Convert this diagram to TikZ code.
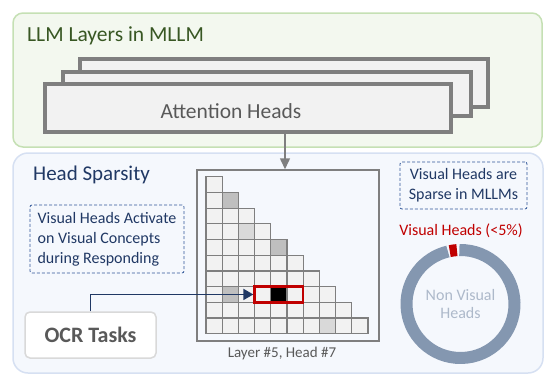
\documentclass[tikz,border=0pt]{standalone}
\usepackage{fontspec}
\setmainfont{Carlito}
\usetikzlibrary{arrows.meta}
\definecolor{gfill}{HTML}{F3F8EF}
\definecolor{gborder}{HTML}{C5E0B4}
\definecolor{bfill}{HTML}{F5F8FD}
\definecolor{bborder}{HTML}{D6E0F2}
\definecolor{gtitle}{HTML}{385723}
\definecolor{dblue}{HTML}{203864}
\definecolor{dashc}{HTML}{2F5597}
\definecolor{gline}{HTML}{7F7F7F}
\definecolor{boxfill}{HTML}{F2F2F2}
\definecolor{gtext}{HTML}{595959}
\definecolor{ringc}{HTML}{8497B0}
\definecolor{vred}{HTML}{C00000}
\definecolor{nvtext}{HTML}{ADB9CA}
\definecolor{cellmid}{HTML}{BFBFBF}
\definecolor{celllight}{HTML}{D9D9D9}
\definecolor{ocrborder}{HTML}{D9D9D9}
\begin{document}
\begin{tikzpicture}[x=1pt,y=-1pt,
  layerbox/.style={draw=gline, line width=4pt, fill=boxfill, inner sep=0pt},
  dashbox/.style={draw=dashc, line width=0.8pt, dash pattern=on 3pt off 2pt, rounded corners=2pt, text=dblue, font=\fontsize{16}{20}\selectfont},
  cellbox/.style={draw=gline, line width=1.2pt},
  grayarrow/.style={draw=gline, line width=1.5pt, -{Triangle[width=10pt,length=11pt]}},
  bluearrow/.style={draw=dblue, line width=1.8pt, -{Triangle[width=11pt,length=10pt]}},
  ringarc/.style={line width=12pt}
]
\useasboundingbox (0,0) rectangle (551,380);
% panels
\node[draw=gborder, fill=gfill, line width=1.5pt, rounded corners=10pt, minimum width=529pt, minimum height=134pt, inner sep=0pt] (gpanel) at (277.5,80) {};
\node[draw=bborder, fill=bfill, line width=1.5pt, rounded corners=15pt, minimum width=530pt, minimum height=220pt, inner sep=0pt] (bpanel) at (278,263) {};
% titles
\node[anchor=base west, inner sep=0pt, text=gtitle, font=\fontsize{21.5}{24}\selectfont] (ttl) at (27,41) {LLM Layers in MLLM};
\node[anchor=base west, inner sep=0pt, text=dblue, font=\fontsize{21}{24}\selectfont] (hs) at (33,180) {Head Sparsity};
% stacked layers
\node[layerbox, minimum width=408pt, minimum height=48pt] (back) at (284,83) {};
\node[layerbox, minimum width=408pt, minimum height=44pt] (mid) at (267,94) {};
\node[layerbox, minimum width=406pt, minimum height=48pt] (front) at (248,108) {};
\node[anchor=base, inner sep=0pt, text=gtext, font=\fontsize{21.5}{24}\selectfont] (ah) at (231,118) {Attention Heads};
% grid frame
\node[draw=gline, line width=1.5pt, minimum width=182pt, minimum height=171pt, inner sep=0pt] (frame) at (288,255.5) {};
\coordinate (ax) at (285,0);
\draw[grayarrow] (front.south -| ax) -- (frame.north -| ax);
% grid cells
\foreach \r in {0,...,9}{
  \foreach \c in {0,...,\r}{
    \draw[cellbox, fill=boxfill] (206+\c*16.2, 176.7+\r*15.7) rectangle ++(16.2,15.7);
  }
}
\foreach \r/\c/\col in {1/1/cellmid, 3/2/celllight, 4/4/cellmid, 7/1/cellmid, 7/4/black, 9/7/celllight}{
  \draw[cellbox, fill=\col] (206+\c*16.2, 176.7+\r*15.7) rectangle ++(16.2,15.7);
}
\node[draw=vred, line width=2.5pt, minimum width=48.6pt, minimum height=15.7pt, inner sep=0pt] (hl) at (278.9,294.45) {};
\node[anchor=base, inner sep=0pt, text=gtext, font=\fontsize{15}{18}\selectfont] (lh) at (282,357) {Layer \#5, Head \#7};
% left dashed note
\node[dashbox, minimum width=154pt, minimum height=68pt, inner sep=0pt, align=left] (note1) at (107,239) {Visual Heads Activate\\on Visual Concepts\\during Responding};
% OCR box
\node[draw=ocrborder, fill=white, line width=1.5pt, rounded corners=5pt, minimum width=131pt, minimum height=46pt, inner sep=0pt, text=gtext, font=\bfseries\fontsize{22}{24}\selectfont] (ocr) at (90.5,335) {OCR Tasks};
\draw[bluearrow] (ocr.north) |- (hl.west);
% right dashed note
\node[dashbox, minimum width=127pt, minimum height=47pt, inner sep=0pt, align=center] (note2) at (463.5,185.5) {Visual Heads are\\Sparse in MLLMs};
\node[anchor=base, inner sep=0pt, text=vred, font=\fontsize{16}{20}\selectfont] (vh) at (461,235) {Visual Heads (<5\%)};
% donut
\coordinate (dc) at (460.5,304);
\begin{scope}[shift={(dc)}, yscale=-1]
  \draw[ringarc, draw=ringc] (91.2:54) arc[start angle=91.2, end angle=-256.5, radius=54];
  \draw[ringarc, draw=vred] (93.8:54) arc[start angle=93.8, end angle=101.5, radius=54];
\end{scope}
\node[align=center, inner sep=0pt, text=nvtext, font=\fontsize{16}{18}\selectfont] (nv) at (460.5,304) {Non Visual\\Heads};
\end{tikzpicture}
\end{document}
